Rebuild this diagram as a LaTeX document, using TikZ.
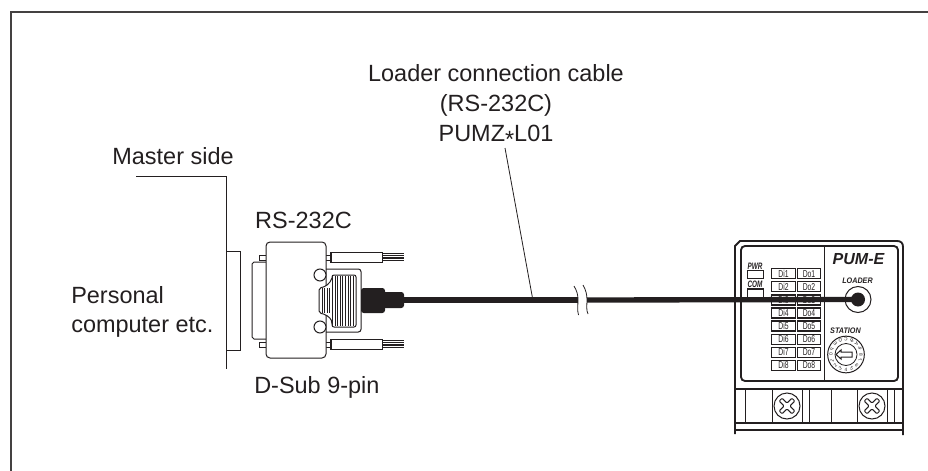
\documentclass[tikz,border=0pt]{standalone}
\usepackage{fontspec}
\setmainfont{Liberation Sans}
\newfontfamily\narrowfont[FakeStretch=0.68]{Liberation Sans}
\newfontfamily\wideital[FakeStretch=0.9]{Liberation Sans}
\usetikzlibrary{positioning}
\definecolor{inkgray}{HTML}{231F20}
\begin{document}
\begin{tikzpicture}[
    x=0.75pt, y=-0.75pt,
    every node/.style={text=inkgray, inner sep=0pt},
    thin line/.style={line width=0.6pt, draw=inkgray},
    part line/.style={line width=0.75pt, draw=inkgray},
    heavy line/.style={line width=1.4pt, draw=inkgray},
    big text/.style={font=\fontsize{17.6}{22.5}\selectfont},
    lamp box/.style={line width=0.95pt, draw=inkgray, fill=white, minimum width=17.5pt, minimum height=7.5pt},
    lamp text/.style={font=\narrowfont\fontsize{7.5}{8}\selectfont},
    panel text/.style={font=\wideital\bfseries\itshape\fontsize{6}{7}\selectfont}
]
    \useasboundingbox (0,0) rectangle (928,471);

    % ==========================
    % FRAME
    % ==========================
    \draw[line width=1.5pt, draw=inkgray!85] (10.5,471) -- (10.5,11.5) -- (928,11.5);

    % ==========================
    % TEXTS
    % ==========================
    \node[big text, align=center] (cableLabel) at (496,106)
        {Loader connection cable\\(RS-232C)\\PUMZ{\raisebox{-4pt}{*}}L01};
    \node[big text] (masterLabel) at (173,156) {Master side};
    \node[align=left, font=\fontsize{17.6}{21.75}\selectfont, anchor=west] (pcLabel) at (71,312)
        {Personal\\computer etc.};
    \node[big text] (rsLabel) at (303.5,220) {RS-232C};
    \node[big text, anchor=west] (subLabel) at (254,387) {D-Sub 9-pin};

    % ==========================
    % MASTER SIDE BRACKET
    % ==========================
    \draw[part line] (136,176) -- (226,176) -- (226,369);
    \draw[part line] (226,251) -- (240,251) -- (240,350) -- (226,350);

    % ==========================
    % D-SUB CONNECTOR
    % ==========================
    % flange and tabs
    \draw[part line] (266,262) -- (254,262) -- (252,264) -- (252,337) -- (254,339) -- (266,339);
    \foreach \ty in {255,342} {
        \draw[part line] (266,\ty) -- (259,\ty) -- (259,\ty+5) -- (266,\ty+5);
        \draw[part line] (326,\ty) -- (330,\ty) (326,\ty+5) -- (330,\ty+5);
    }
    % body
    \draw[part line, fill=white, rounded corners=3pt] (266,242) rectangle (326,358);
    % hood
    \draw[part line, rounded corners=2pt] (326,269) -- (361,269) -- (361,332) -- (326,332);
    % grip
    \draw[part line, rounded corners=1.5pt, fill=white]
        (332,278) -- (332,275) -- (356,275) -- (356,327) -- (332,327) -- (332,322)
        .. controls (330,317) and (325,314) .. (319,313) -- (319,288)
        .. controls (325,287) and (330,284) .. (332,278);
    \foreach \gx in {322,324.6,...,354} {
        \draw[thin line] (\gx,{\gx<332 ? 288 : 276}) -- (\gx,{\gx<332 ? 313 : 326});
    }
    % body screws
    \foreach \cy in {275,327} {
        \draw[part line, fill=white] (320,\cy) circle (6);
    }
    % thumb screws
    \foreach \ty in {252,339} {
        \draw[part line, fill=white] (330,\ty) rectangle (382,\ty+10);
        \draw[line width=1.2pt, draw=inkgray] (330.8,\ty) -- (330.8,\ty+10);
        \draw[line width=1pt, draw=inkgray] (382,\ty+1.5) -- (404,\ty+1.5) (382,\ty+3.7) -- (404,\ty+3.7)
            (382,\ty+6) -- (404,\ty+6) (382,\ty+8.5) -- (404,\ty+8.5);
    }
    % boot
    \fill[inkgray, rounded corners=2pt] (361,288) -- (385,288) -- (385,313) -- (361,313) -- cycle;
    \fill[inkgray, rounded corners=2pt] (380,292) -- (404,292) -- (404,308) -- (380,308) -- cycle;

    % ==========================
    % MODULE PUM-E
    % ==========================
    \draw[heavy line] (735,434) -- (735,246) -- (740,241) -- (897,241)
        .. controls (901,241) and (903,243) .. (903,247) -- (903,435);
    \draw[heavy line, rounded corners=3pt] (741,246) rectangle (898,381);
    \draw[part line] (824,246) -- (824,381);
    % terminal block
    \draw[heavy line] (735,389) -- (903,389);
    \draw[line width=1.6pt, draw=inkgray] (735,423) -- (903,423);
    \draw[heavy line] (735,430) -- (903,430);
    \foreach \tx in {745,809,831,894} {
        \draw[part line] (\tx,389) -- (\tx,423);
    }
    \foreach \sx in {787,872} {
        \draw[part line] (\sx-15,389) rectangle (\sx+15,423);
        \draw[part line] (\sx,406) circle (13);
        \begin{scope}[shift={(\sx,406)}, rotate=45]
            \draw[part line, rounded corners=0.8pt]
                (-2,-2) -- (-2,-9) -- (2,-9) -- (2,-2) -- (9,-2) -- (9,2) -- (2,2)
                -- (2,9) -- (-2,9) -- (-2,2) -- (-9,2) -- (-9,-2) -- cycle;
        \end{scope}
    }
    % lamps
    \node[panel text, font=\narrowfont\bfseries\itshape\fontsize{7}{8}\selectfont] (pwrLabel) at (755,266) {PWR};
    \node[lamp box, minimum width=12.5pt, minimum height=5.5pt] (pwrLamp) at (755.5,274.5) {};
    \node[panel text, font=\narrowfont\bfseries\itshape\fontsize{7}{8}\selectfont] (comLabel) at (755,284) {COM};
    \node[lamp box, minimum width=12.5pt, minimum height=7.5pt] (comLamp) at (755.5,294) {};
    \foreach \i/\ly in {1/273.7, 2/286.8, 3/299.9, 4/313, 5/326.1, 6/339.2, 7/352.3, 8/365.4} {
        \node[lamp box] (di\i) at (783.5,\ly) {};
        \node[lamp box] (do\i) at (809,\ly) {};
        \node[lamp text] at (di\i) {Di\i};
        \node[lamp text] at (do\i) {Do\i};
    }
    % front panel texts
    \node[font=\bfseries\itshape\fontsize{12}{14}\selectfont] (pumLabel) at (858.5,259) {PUM-E};
    \node[panel text] (loaderLabel) at (857.5,281) {LOADER};
    \node[panel text] (stationLabel) at (845.5,331) {STATION};
    % jack
    \node[circle, part line, fill=white, minimum size=19.5pt] (jackRing) at (858,299.5) {};
    \node[circle, fill=inkgray, minimum size=10.5pt] (jackHole) at (jackRing) {};
    % rotary switch
    \node[circle, part line, fill=white, minimum size=27.5pt] (dialOuter) at (846,354.5) {};
    \node[circle, thin line, minimum size=16.5pt] (dialInner) at (dialOuter) {};
    \foreach \i/\t in {0/0,1/1,2/2,3/3,4/4,5/5,6/6,7/7,8/8,9/9,10/A,11/B,12/C,13/D,14/E,15/F} {
        \pgfmathsetmacro{\da}{180-22.5*\i}
        \node[font=\fontsize{3.6}{4}\selectfont, rotate=\da-90] at ([shift={(\da:15)}]dialOuter.center) {\t};
    }
    \draw[part line, fill=white] (836,354.5) -- (841,350) -- (841,352) -- (852,352)
        -- (852,357) -- (841,357) -- (841,359) -- cycle;

    % ==========================
    % CABLE AND LEADER
    % ==========================
    \coordinate (cablePlug) at (404,300);
    \coordinate (cableTap) at (532.5,298);
    \coordinate (leaderTop) at (505,148);
    \coordinate (breakLeft) at (578,300);
    \coordinate (breakRight) at (587,300);
    \draw[line width=4pt, draw=inkgray] (cablePlug) -- (breakLeft);
    \draw[line width=4pt, draw=inkgray] (breakRight) -- (jackHole.center);
    \draw[thin line] (leaderTop) -- (cableTap);
    \draw[thin line] (574,286) .. controls (577,291) and (578,295) .. (breakLeft)
        .. controls (578,305) and (577,310) .. (578.5,315);
    \draw[thin line] (583,285) .. controls (586,290) and (587,295) .. (breakRight)
        .. controls (587,305) and (586,310) .. (588,314);

\end{tikzpicture}
\end{document}
